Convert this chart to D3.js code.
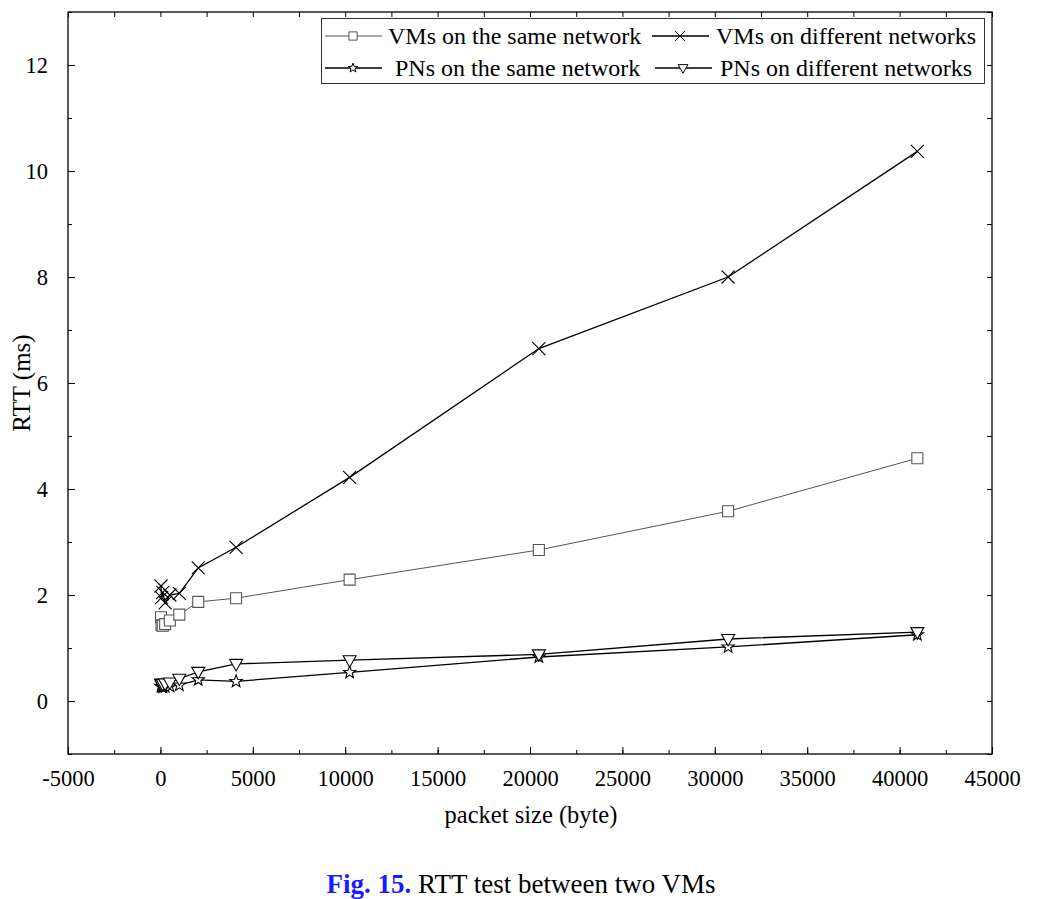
<!DOCTYPE html>
<html><head><meta charset="utf-8">
<script src="https://cdn.jsdelivr.net/npm/d3@7/dist/d3.min.js"></script>
<style>body{margin:0;background:#fff;} text{font-family:"Liberation Serif","Times New Roman",serif;}</style>
</head><body>
<svg id="chart" width="1042" height="899"></svg>
<script>
const packetSizes = [32, 64, 128, 256, 512, 1024, 2048, 4096, 10240, 20480, 30720, 40960];
const vmSame = [1.58, 1.43, 1.42, 1.45, 1.52, 1.63, 1.87, 1.94, 2.29, 2.85, 3.58, 4.58];
const vmDiff = [2.17, 1.95, 2.05, 1.85, 2.0, 2.03, 2.51, 2.9, 4.22, 6.65, 8.0, 10.37];
const pnSame = [0.28, 0.27, 0.26, 0.27, 0.28, 0.3, 0.4, 0.37, 0.54, 0.83, 1.02, 1.25];
const pnDiff = [0.33, 0.31, 0.32, 0.33, 0.35, 0.42, 0.55, 0.7, 0.77, 0.88, 1.17, 1.3];
const seriesNames = ["VMs on the same network", "VMs on different networks", "PNs on the same network", "PNs on different networks"];
const xTicks = [-5000, 0, 5000, 10000, 15000, 20000, 25000, 30000, 35000, 40000, 45000];
const yTicks = [0, 2, 4, 6, 8, 10, 12];

const svg = d3.select("#chart");
const L = 68, R = 992, T = 12, B = 754;
const x = d3.scaleLinear().domain([-5000, 45000]).range([L, R]);
const y = d3.scaleLinear().domain([-1, 13]).range([B, T]);

const series = [
  {name: seriesNames[0], vals: vmSame, color: "#555", marker: "square", lw: 1},
  {name: seriesNames[1], vals: vmDiff, color: "#000", marker: "x", lw: 1.3},
  {name: seriesNames[2], vals: pnSame, color: "#000", marker: "star", lw: 1.3},
  {name: seriesNames[3], vals: pnDiff, color: "#000", marker: "tri", lw: 1.3}
];

function markerPath(type, s) {
  if (type === "square") { const h = 5.5*s; return `M${-h},${-h}H${h}V${h}H${-h}Z`; }
  if (type === "x") { const h = 6.5*s; return `M${-h},${-h}L${h},${h}M${-h},${h}L${h},${-h}`; }
  if (type === "tri") { const w = 6.5*s; return `M${-w},${-4.5*s}L${w},${-4.5*s}L0,${7*s}Z`; }
  if (type === "star") {
    let p = ""; const ro = 6.5*s, ri = 2.7*s;
    for (let i = 0; i < 10; i++) {
      const a = -Math.PI/2 + i*Math.PI/5; const r = i%2===0 ? ro : ri;
      p += (i===0?"M":"L") + (r*Math.cos(a)).toFixed(2) + "," + (r*Math.sin(a)).toFixed(2);
    }
    return p + "Z";
  }
}

// frame
svg.append("rect").attr("x", L).attr("y", T).attr("width", R-L).attr("height", B-T)
  .attr("fill", "none").attr("stroke", "#000").attr("stroke-width", 1.3);

const fmt = d => String(d).replace("\u2212", "-");
// axes with inward ticks
const xMinor = d3.range(-5000, 45001, 2500);
const yMinor = d3.range(-1, 13.01, 1);
const gx = svg.append("g").attr("transform", `translate(0,${B})`)
  .call(d3.axisBottom(x).tickValues(xMinor).tickSize(-4).tickFormat(""));
gx.select(".domain").remove();
const gx2 = svg.append("g").attr("transform", `translate(0,${B})`)
  .call(d3.axisBottom(x).tickValues(xTicks).tickSize(-7).tickPadding(16).tickFormat(fmt));
gx2.select(".domain").remove();
gx2.selectAll("text").attr("font-size", 22.5).attr("fill", "#000");
const gxt = svg.append("g").attr("transform", `translate(0,${T})`)
  .call(d3.axisTop(x).tickValues(xMinor).tickSize(-5).tickFormat(""));
gxt.select(".domain").remove();

const gy = svg.append("g").attr("transform", `translate(${L},0)`)
  .call(d3.axisLeft(y).tickValues(yMinor).tickSize(-4).tickFormat(""));
gy.select(".domain").remove();
const gy2 = svg.append("g").attr("transform", `translate(${L},0)`)
  .call(d3.axisLeft(y).tickValues(yTicks).tickSize(-7).tickPadding(20).tickFormat(fmt));
gy2.select(".domain").remove();
gy2.selectAll("text").attr("font-size", 22.5).attr("fill", "#000");
const gyr = svg.append("g").attr("transform", `translate(${R},0)`)
  .call(d3.axisRight(y).tickValues(yMinor).tickSize(-5).tickFormat(""));
gyr.select(".domain").remove();
svg.selectAll(".tick line").attr("stroke", "#000").attr("stroke-width", 1);

// axis titles
svg.append("text").attr("x", 531).attr("y", 823).attr("text-anchor", "middle")
  .attr("font-size", 24.5).text("packet size (byte)");
svg.append("text").attr("transform", "translate(30,383) rotate(-90)").attr("text-anchor", "middle")
  .attr("font-size", 25).text("RTT (ms)");

// lines and markers
const line = d3.line().x(d => x(d[0])).y(d => y(d[1]));
series.forEach(s => {
  const pts = packetSizes.map((p, i) => [p, s.vals[i]]);
  svg.append("path").datum(pts).attr("d", line).attr("fill", "none")
    .attr("stroke", s.color).attr("stroke-width", s.lw);
  svg.append("g").selectAll("path").data(pts).join("path")
    .attr("transform", d => `translate(${x(d[0])},${y(d[1])})`)
    .attr("d", markerPath(s.marker, 1))
    .attr("fill", s.marker === "x" ? "none" : "#fff")
    .attr("stroke", s.color).attr("stroke-width", 1.1);
});

// legend
const lg = svg.append("g");
lg.append("rect").attr("x", 321.5).attr("y", 18.5).attr("width", 663).attr("height", 65)
  .attr("fill", "#fff").attr("stroke", "#333").attr("stroke-width", 1);
const legPos = [
  {lx1: 325, lx2: 382, mx: 353, ty: 36, tx: 388},
  {lx1: 652, lx2: 709, mx: 680, ty: 36, tx: 716},
  {lx1: 325, lx2: 382, mx: 353, ty: 68, tx: 395},
  {lx1: 655, lx2: 712, mx: 683, ty: 68, tx: 720}
];
series.forEach((s, i) => {
  const p = legPos[i];
  lg.append("line").attr("x1", p.lx1).attr("x2", p.lx2).attr("y1", p.ty).attr("y2", p.ty)
    .attr("stroke", s.color).attr("stroke-width", s.lw);
  lg.append("path").attr("transform", `translate(${p.mx},${p.ty})`)
    .attr("d", markerPath(s.marker, 0.75))
    .attr("fill", s.marker === "x" ? "none" : "#fff")
    .attr("stroke", s.color).attr("stroke-width", 1);
  lg.append("text").attr("x", p.tx).attr("y", p.ty + 8).attr("font-size", 24).text(s.name);
});

// caption
const cap = svg.append("text").attr("x", 521).attr("y", 893).attr("text-anchor", "middle").attr("font-size", 27);
cap.append("tspan").attr("fill", "#1a1aff").attr("font-weight", "bold").text("Fig. 15.");
cap.append("tspan").attr("fill", "#000").text(" RTT test between two VMs");
</script>
</body></html>
